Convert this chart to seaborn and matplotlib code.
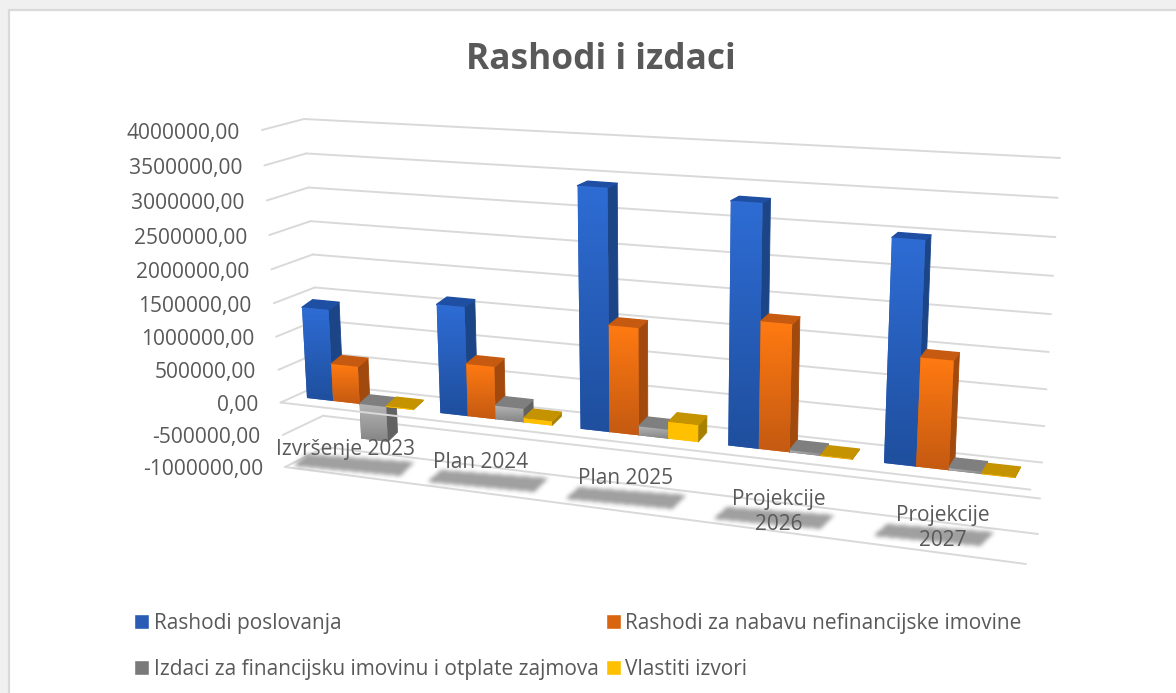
import numpy as np
import pandas as pd
import matplotlib
matplotlib.use('Agg')
import matplotlib.pyplot as plt
from matplotlib.colors import to_rgb
from matplotlib.path import Path
from matplotlib.patches import Polygon
from matplotlib.transforms import Affine2D, Transform
import seaborn as sns

categories = ['Izvršenje 2023', 'Plan 2024', 'Plan 2025', 'Projekcije\n2026', 'Projekcije\n2027']
rashodi_poslovanja = [1370000, 1600000, 3430000, 3370000, 3040000]
rashodi_nabava = [560000, 770000, 1530000, 1780000, 1490000]
izdaci = [-530000, 200000, 130000, 30000, 30000]
vlastiti = [10000, 60000, 240000, 5000, 5000]
series_names = ['Rashodi poslovanja', 'Rashodi za nabavu nefinancijske imovine',
                'Izdaci za financijsku imovinu i otplate zajmova', 'Vlastiti izvori']
grid_values = [-1000000, -500000, 0, 500000, 1000000, 1500000, 2000000, 2500000, 3000000, 3500000, 4000000]

W, H = 1176, 693
FONT = 'Open Sans'
TXT = '#595959'
GRID = '#d9d9d9'
BAR_WIDTH = 0.80
LEGEND_COLORS = ['#2a5bb5', '#d9650f', '#7a7a7a', '#ffc000']
# front gradient top, front gradient bottom, top face, side face
FACES = [('#2e6cd4', '#1f4f9e', '#1f4fa3', '#1c4587'),
         ('#ff7a12', '#c55a11', '#c65a10', '#a24a0e'),
         ('#b4b4b4', '#858585', '#7f7f7f', '#626262'),
         ('#ffc000', '#ffc000', '#c59300', '#a88000')]
LABEL_XY = [(345, 449), (481, 462), (626, 479), (779, 512), (943, 528)]
SHADOW_XY = [(353, 465), (487, 481), (625, 498), (773, 518), (933, 535)]


def homography(src, dst):
    rows, rhs = [], []
    for (x, y), (u, v) in zip(src, dst):
        rows.append([x, y, 1, 0, 0, 0, -u * x, -u * y])
        rows.append([0, 0, 0, x, y, 1, -v * x, -v * y])
        rhs += [u, v]
    return np.append(np.linalg.solve(np.array(rows, float), np.array(rhs, float)), 1).reshape(3, 3)


class Plane(Transform):
    input_dims = 2
    output_dims = 2

    def __init__(self, mat):
        super().__init__()
        self.mat = mat

    def transform_non_affine(self, values):
        pts = np.column_stack([values, np.ones(len(values))]) @ self.mat.T
        return pts[:, :2] / pts[:, 2:]


def px(plane, x, y):
    return plane.transform_non_affine(np.array([[x, y]], float))[0]


def blurred_shadow(ax, outline, transform, zorder, color='#a0a0a0', pad=12):
    x0, y0 = np.floor(outline.min(axis=0)) - pad
    x1, y1 = np.ceil(outline.max(axis=0)) + pad
    xs, ys = np.arange(x0, x1) + 0.5, np.arange(y0, y1) + 0.5
    grid = np.array(np.meshgrid(xs, ys)).reshape(2, -1).T
    mask = Path(outline).contains_points(grid).reshape(len(ys), len(xs)).astype(float)
    kernel = np.ones(5) / 5
    for _ in range(2):
        mask = np.apply_along_axis(np.convolve, 0, mask, kernel, mode='same')
        mask = np.apply_along_axis(np.convolve, 1, mask, kernel, mode='same')
    rgba = np.zeros(mask.shape + (4,))
    rgba[..., :3] = to_rgb(color)
    rgba[..., 3] = mask
    ax.imshow(rgba, extent=(x0, x1, y1, y0), transform=transform, aspect='auto', zorder=zorder,
              interpolation='bilinear', clip_on=False)


sns.set_theme(style='white')
plt.rcParams['font.family'] = [FONT, 'DejaVu Sans']
fig = plt.figure(figsize=(W / 100, H / 100), dpi=100, facecolor='#f0f0f0')
ax = fig.add_axes([0, 0, 1, 1])
ax.set_axis_off()
T_pix = Affine2D().scale(1 / W, -1 / H).translate(0, 1) + fig.transFigure

# frame of the chart area
ax.add_patch(Polygon([(9, 10), (W + 5, 10), (W + 5, H + 5), (9, H + 5)], closed=True, facecolor='white',
                     edgecolor=GRID, lw=1.6, transform=T_pix, clip_on=False, zorder=0))

wall_src = [(-0.5, -1e6), (4.5, -1e6), (-0.5, 4e6), (4.5, 4e6)]
back_wall = Plane(homography(wall_src, [(325, 447), (1038, 534), (304, 119), (1060, 158)]))
front_wall = Plane(homography(wall_src, [(285, 467), (1026, 564), (262, 130), (1049, 172)]))
left = -BAR_WIDTH / 2
bar_src = [(left, 0), (4 + left, 0), (left, 4e6), (4 + left, 4e6)]
bar_front = Plane(homography(bar_src, [(307, 398), (884, 463), (292, 126), (894.5, 163)]))
bar_back = Plane(homography(bar_src, [(317, 389), (891, 453), (304, 122), (900.5, 160)]))

df = pd.DataFrame({
    'kategorija': categories * 4,
    'serija': np.repeat(series_names, 5),
    'iznos': rashodi_poslovanja + rashodi_nabava + izdaci + vlastiti,
})
sns.barplot(data=df, x='kategorija', y='iznos', hue='serija', hue_order=series_names,
            palette=LEGEND_COLORS, width=BAR_WIDTH, saturation=1, errorbar=None, ax=ax)
handles, labels = ax.get_legend_handles_labels()
ax.get_legend().remove()

# walls and floor
for v in grid_values:
    ax.plot([-0.5, 4.5], [v, v], color=GRID, lw=1.4, transform=back_wall + T_pix, clip_on=False, zorder=1,
            scalex=False, scaley=False)
    a, b = px(front_wall, -0.5, v), px(back_wall, -0.5, v)
    ax.plot([a[0], b[0]], [a[1], b[1]], color=GRID, lw=1.4, transform=T_pix, clip_on=False, zorder=1,
            scalex=False, scaley=False)
ax.plot([-0.5, 4.5], [-1e6, -1e6], color=GRID, lw=1.4, transform=front_wall + T_pix, clip_on=False, zorder=1,
        scalex=False, scaley=False)

# 3d faces of each bar, back to front so the nearer ones cover the side faces
for s, container in enumerate(ax.containers):
    top_c, bot_c, roof_c, side_c = FACES[s]
    for c, bar in enumerate(container):
        z = 5 + c + s * 0.1
        xl, xr = bar.get_x(), bar.get_x() + bar.get_width()
        lo, hi = sorted([bar.get_y(), bar.get_y() + bar.get_height()])
        side = [px(bar_front, xr, lo), px(bar_back, xr, lo), px(bar_back, xr, hi), px(bar_front, xr, hi)]
        roof = [px(bar_front, xl, hi), px(bar_front, xr, hi), px(bar_back, xr, hi), px(bar_back, xl, hi)]
        ax.add_patch(Polygon(side, closed=True, facecolor=side_c, edgecolor=side_c, lw=0.6, joinstyle='round',
                             transform=T_pix, clip_on=False, zorder=z))
        ax.add_patch(Polygon(roof, closed=True, facecolor=roof_c, edgecolor=roof_c, lw=1.0, joinstyle='round',
                             transform=T_pix, clip_on=False, zorder=z + 0.01))
        bar.set_transform(bar_front + T_pix)
        bar.set_clip_on(False)
        bar.set_zorder(z + 0.02)
        bar.set_edgecolor('none')
        front = np.array([px(bar_front, xl, lo), px(bar_front, xr, lo), px(bar_front, xr, hi), px(bar_front, xl, hi)])
        clip = Polygon(front, closed=True, transform=T_pix)
        grad = np.linspace(to_rgb(top_c), to_rgb(bot_c), 32).reshape(32, 1, 3)
        im = ax.imshow(grad, extent=(front[:, 0].min(), front[:, 0].max(), front[:, 1].max(), front[:, 1].min()),
                       transform=T_pix, aspect='auto', interpolation='bilinear', zorder=z + 0.03)
        im.set_clip_path(clip)

# edge of the floor at zero runs in front of the negative bar
ax.plot([-0.5, 4.5], [0, 0], color=GRID, lw=1.4, transform=front_wall + T_pix, clip_on=False, zorder=20,
        scalex=False, scaley=False)

# blurred label shadows
shadow = np.array([(-60, 1), (-46, -11), (62, -3), (47, 11)], float)
for center in SHADOW_XY:
    blurred_shadow(ax, shadow + center, T_pix, 21)

for name, (x, y) in zip(categories, LABEL_XY):
    ax.text(x, y, name, transform=T_pix, ha='center', va='center', fontsize=15, color=TXT, linespacing=1.25,
            zorder=22)

for v in grid_values:
    a = px(front_wall, -0.5, v)
    ax.text(a[0] - 22, a[1] + 3, f'{v},00', transform=T_pix, ha='right', va='center', fontsize=15.1, color=TXT,
            zorder=22)

ax.text(601, 60, 'Rashodi i izdaci', transform=T_pix, ha='center', va='center', fontsize=25.4, fontweight='bold',
        color=TXT, zorder=22)

order = [0, 2, 1, 3]
ax.legend([handles[i] for i in order], [labels[i] for i in order], ncol=2, loc='upper left',
          bbox_to_anchor=(134, 613), bbox_transform=T_pix, frameon=False, fontsize=15, labelcolor=TXT,
          borderpad=0, borderaxespad=0, handlelength=0.74, handleheight=0.74, handletextpad=0.2,
          labelspacing=1.2, columnspacing=0.35)

ax.set_xlim(0, 1)
ax.set_ylim(0, 1)
fig.savefig('out.png', dpi=100, facecolor=fig.get_facecolor())
